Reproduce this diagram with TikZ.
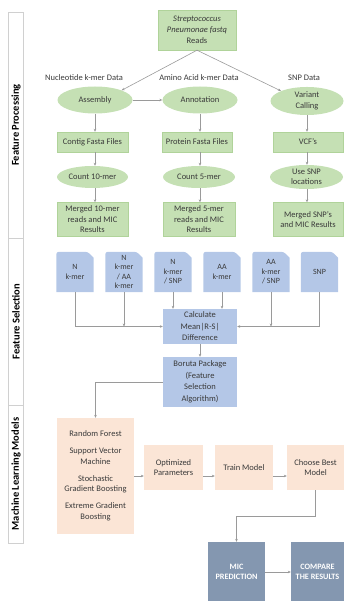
\documentclass[tikz,border=0pt]{standalone}
\usepackage{fontspec}
\setmainfont{Carlito}
\usetikzlibrary{arrows.meta,shapes.geometric}
\definecolor{gfill}{HTML}{C5E0B4}
\definecolor{gline}{HTML}{B0D39A}
\definecolor{bfill}{HTML}{B4C7E7}
\definecolor{pfill}{HTML}{FBE5D6}
\definecolor{dfill}{HTML}{8497B0}
\definecolor{lgrey}{HTML}{9A9A9A}
\definecolor{sidel}{HTML}{D0D0D0}
\definecolor{txt}{HTML}{3A3A3A}
\begin{document}
\begin{tikzpicture}[x=1pt,y=-1pt,
  every node/.style={font=\fontsize{8.5}{10.5}\selectfont, text=txt, align=center, inner sep=1pt},
  gbox/.style={rectangle, fill=gfill, draw=gline, line width=0.4pt},
  gell/.style={ellipse, fill=gfill, draw=none},
  bbox/.style={rectangle, fill=bfill, font=\fontsize{8.5}{11.5}\selectfont},
  fsel/.style={rectangle, minimum width=37pt, minimum height=40pt, font=\fontsize{8}{9.6}\selectfont},
  pbox/.style={rectangle, fill=pfill},
  dbox/.style={rectangle, fill=dfill, text=white, font=\fontsize{8.2}{10}\selectfont\bfseries},
  conn/.style={draw=lgrey, line width=0.6pt, -{Stealth[length=3pt,width=2.6pt]}},
  side/.style={rectangle, draw=sidel, fill=white, rotate=90, minimum height=15pt, inner sep=0pt, text=black, font=\fontsize{10.5}{11}\selectfont\bfseries}]
\useasboundingbox (0,0) rectangle (344,601);

% sidebars
\node[side, minimum width=226pt] (sfp) at (16,125) {Feature Processing};
\node[side, minimum width=167pt] (sfs) at (16,321.5) {Feature Selection};
\node[side, minimum width=138pt] (sml) at (16,474) {Machine Learning Models};

% feature processing
\node[gbox, minimum width=78pt, minimum height=40pt, font=\fontsize{8.5}{11}\selectfont] (top) at (197,30)
  {{\itshape Streptococcus}\\{\itshape Pneumonae fastq}\\Reads};
\node (l1) at (84,78) {Nucleotide k-mer Data};
\node (l2) at (199,78) {Amino Acid k-mer Data};
\node (l3) at (304,78) {SNP Data};

\node[gell, minimum width=75pt, minimum height=27pt] (asm) at (95,100) {Assembly};
\node[gell, minimum width=75pt, minimum height=27pt] (ann) at (200,100) {Annotation};
\node[gell, minimum width=73pt, minimum height=28pt] (var) at (307,101) {Variant\\Calling};

\node[gbox, minimum width=71pt, minimum height=20pt] (contig) at (92.5,142) {Contig Fasta Files};
\node[gbox, minimum width=70pt, minimum height=20pt] (prot) at (197,142) {Protein Fasta Files};
\node[gbox, minimum width=70pt, minimum height=20pt] (vcf) at (308,142) {VCF's};

\node[gell, minimum width=71pt, minimum height=22pt] (c10) at (92.5,177) {Count 10-mer};
\node[gell, minimum width=72pt, minimum height=22pt] (c5) at (199,177) {Count 5-mer};
\node[gell, minimum width=73pt, minimum height=24pt, inner sep=0pt] (usnp) at (306.5,177) {Use SNP\\locations};

\node[gbox, minimum width=71pt, minimum height=34pt] (m10) at (92.5,219.5) {Merged 10-mer\\reads and MIC\\Results};
\node[gbox, minimum width=72pt, minimum height=34pt] (m5) at (199,219.5) {Merged 5-mer\\reads and MIC\\Results};
\node[gbox, minimum width=70pt, minimum height=34pt] (msnp) at (308,219.5) {Merged SNP's\\and MIC Results};

\draw[conn] (top.south) -- (asm.north east);
\draw[conn] (top.south) -- (var.north west);
\draw[conn] (asm.east) -- (ann.west);
\draw[conn] (asm.south) -- (asm.south |- contig.north);
\draw[conn] (ann.south) -- (ann.south |- prot.north);
\draw[conn] (var.south) -- (var.south |- vcf.north);
\draw[conn] (asm.south |- contig.south) -- (asm.south |- c10.north);
\draw[conn] (ann.south |- prot.south) -- (ann.south |- c5.north);
\draw[conn] (var.south |- vcf.south) -- (var.south |- usnp.north);
\draw[conn] (asm.south |- c10.south) -- (asm.south |- m10.north);
\draw[conn] (ann.south |- c5.south) -- (ann.south |- m5.north);
\draw[conn] (var.south |- usnp.south) -- (var.south |- msnp.north);

% feature selection
\node[fsel] (f1) at (75,272) {};
\node[fsel] (f2) at (124,272) {};
\node[fsel] (f3) at (173,272) {};
\node[fsel] (f4) at (222,272) {};
\node[fsel] (f5) at (271,272) {};
\node[fsel] (f6) at (319.5,272) {};
\foreach \n in {f1,f2,f3,f4,f5,f6}{
  \fill[bfill, rounded corners=2.5pt] (\n.south west) -- (\n.north west) -- ([xshift=-6pt]\n.north east) [sharp corners] -- ([yshift=-6pt]\n.north east) -- (\n.south east) -- cycle;
}
\node[fsel] (t1) at (f1) {N\\k-mer};
\node[fsel] (t2) at (f2) {N\\k-mer\\/ AA\\k-mer};
\node[fsel] (t3) at (f3) {N\\k-mer\\/ SNP};
\node[fsel] (t4) at (f4) {AA\\k-mer};
\node[fsel] (t5) at (f5) {AA\\k-mer\\/ SNP};
\node[fsel] (t6) at (f6) {SNP};

\node[bbox, minimum width=74pt, minimum height=35pt] (calc) at (200,326.5) {Calculate\\Mean|R-S|\\Difference};
\node[bbox, minimum width=74pt, minimum height=50pt] (bor) at (200,382) {Boruta Package\\(Feature\\Selection\\Algorithm)};

\draw[conn] (f1.south) |- (calc.west);
\draw[conn] (f2.south) -- (f2.south |- calc.west);
\draw[conn] (f6.south) |- (calc.east);
\draw[conn] (f5.south) -- (f5.south |- calc.east);
\draw[conn] (f3.south) -- (f3.south |- calc.north);
\draw[conn] (f4.south) -- (f4.south |- calc.north);
\draw[conn] (calc.south) -- (bor.north);

% machine learning
\node[pbox, minimum width=77pt, minimum height=116pt] (ml) at (95.5,476)
  {Random Forest\\[6.5pt]Support Vector\\Machine\\[6.5pt]Stochastic\\Gradient Boosting\\[6.5pt]Extreme Gradient\\Boosting};
\node[pbox, minimum width=59pt, minimum height=45pt] (opt) at (173.5,467.5) {Optimized\\Parameters};
\node[pbox, minimum width=58pt, minimum height=45pt] (train) at (244,467.5) {Train Model};
\node[pbox, minimum width=57pt, minimum height=45pt] (choose) at (315.5,467.5) {Choose Best\\Model};

\draw[conn] (bor.west) -| (ml.north);
\draw[conn] (ml.east) -- (ml.east -| opt.west);
\draw[conn] (ml.east -| opt.east) -- (ml.east -| train.west);
\draw[conn] (ml.east -| train.east) -- (ml.east -| choose.west);

\node[dbox, minimum width=57pt, minimum height=60pt] (mic) at (236.5,572) {MIC\\PREDICTION};
\node[dbox, minimum width=53pt, minimum height=60pt, inner sep=0pt] (cmp) at (317.5,572) {COMPARE\\THE RESULTS};

\draw[conn] (choose.south) -- ++(0,26) -| (mic.north);
\draw[conn] (mic.east) -- (cmp.west);
\end{tikzpicture}
\end{document}
